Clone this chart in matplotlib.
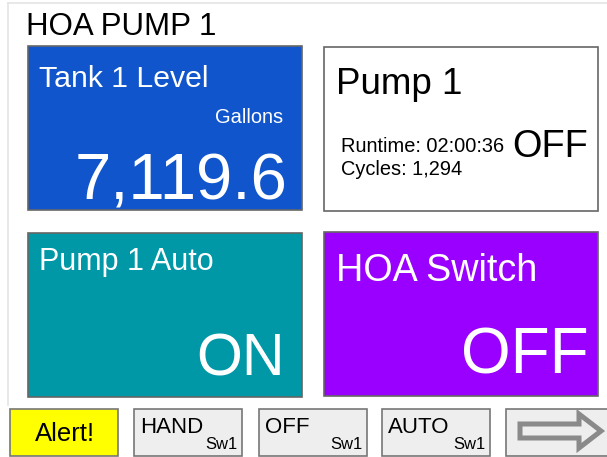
import matplotlib
matplotlib.use('Agg')
import matplotlib.pyplot as plt
from matplotlib.patches import Rectangle, Polygon

plt.rcParams['font.family'] = ['Liberation Sans', 'DejaVu Sans']

header = 'HOA PUMP 1'

# tiles: title, value, colour
tile_titles = ['Tank 1 Level', 'Pump 1', 'Pump 1 Auto', 'HOA Switch']
tile_values = ['7,119.6', 'OFF', 'ON', 'OFF']
tile_colors = ['#1155cc', '#ffffff', '#0097a7', '#9900ff']
tile_units = 'Gallons'
pump_runtime = '02:00:36'
pump_cycles = 1294

buttons = ['Alert!', 'HAND', 'OFF', 'AUTO']
button_colors = ['#ffff00', '#eeeeee', '#eeeeee', '#eeeeee']
switch_name = 'Sw1'

fig = plt.figure(figsize=(6.07, 4.57), dpi=100)
ax = fig.add_axes([0, 0, 1, 1])
ax.set_xlim(0, 607)
ax.set_ylim(457, 0)
ax.axis('off')

# outer frame (only top and left visible)
ax.plot([8, 8], [3, 405], color='#e4e4e4', lw=1.2)
ax.plot([8, 607], [3, 3], color='#e4e4e4', lw=1.2)

ax.text(26, 35, header, fontsize=22.5, color='black', va='baseline')

# tile grid
tile_x = [28, 324, 28, 324]
tile_y = [46, 47, 233, 232]
w, h = 274, 164
for i in range(4):
    ax.add_patch(Rectangle((tile_x[i], tile_y[i]), w, h, facecolor=tile_colors[i],
                           edgecolor='#666666', lw=1.2))

# Tank level
ax.text(39, 87, tile_titles[0], fontsize=21.8, color='white', va='baseline')
ax.text(283, 123, tile_units, fontsize=14.4, color='white', va='baseline', ha='right')
ax.text(288, 199, tile_values[0], fontsize=47, color='white', va='baseline', ha='right')

# Pump 1
ax.text(336, 94, tile_titles[1], fontsize=26.5, color='black', va='baseline')
ax.text(341, 152, f'Runtime: {pump_runtime}', fontsize=14.4, color='black', va='baseline')
ax.text(341, 175, f'Cycles: {pump_cycles:,}', fontsize=14.4, color='black', va='baseline')
ax.text(512, 157, tile_values[1], fontsize=27.3, color='black', va='baseline')

# Pump auto
ax.text(39, 270, tile_titles[2], fontsize=22, color='white', va='baseline')
ax.text(285, 375, tile_values[2], fontsize=42.5, color='white', va='baseline', ha='right')

# HOA switch
ax.text(336, 281, tile_titles[3], fontsize=27.2, color='white', va='baseline')
ax.text(589, 373, tile_values[3], fontsize=46, color='white', va='baseline', ha='right')

# bottom buttons
btn_x = [10, 134, 259, 382, 506]
bw, bh, by = 108, 47, 409
for i, lab in enumerate(buttons):
    ax.add_patch(Rectangle((btn_x[i], by), bw, bh, facecolor=button_colors[i],
                           edgecolor='#777777', lw=1.2))
    if i == 0:
        ax.text(btn_x[i] + bw / 2 + 1, 441, lab, fontsize=18.5, color='black',
                va='baseline', ha='center')
    else:
        ax.text(btn_x[i] + 6, 433, lab, fontsize=16, color='black', va='baseline')
        ax.text(btn_x[i] + bw - 4, 449, switch_name, fontsize=12, color='black',
                va='baseline', ha='right')

# navigation arrow button
ax.add_patch(Rectangle((btn_x[4], by), 120, bh, facecolor='#eeeeee',
                       edgecolor='#777777', lw=1.2))
arrow = [(520, 424), (579, 424), (579, 414), (601, 431), (579, 448), (579, 438), (520, 438)]
ax.add_patch(Polygon(arrow, closed=True, facecolor='#eeeeee', edgecolor='#8a8a8a',
                     lw=3.6, joinstyle='miter'))

fig.savefig('out.png', dpi=100)
